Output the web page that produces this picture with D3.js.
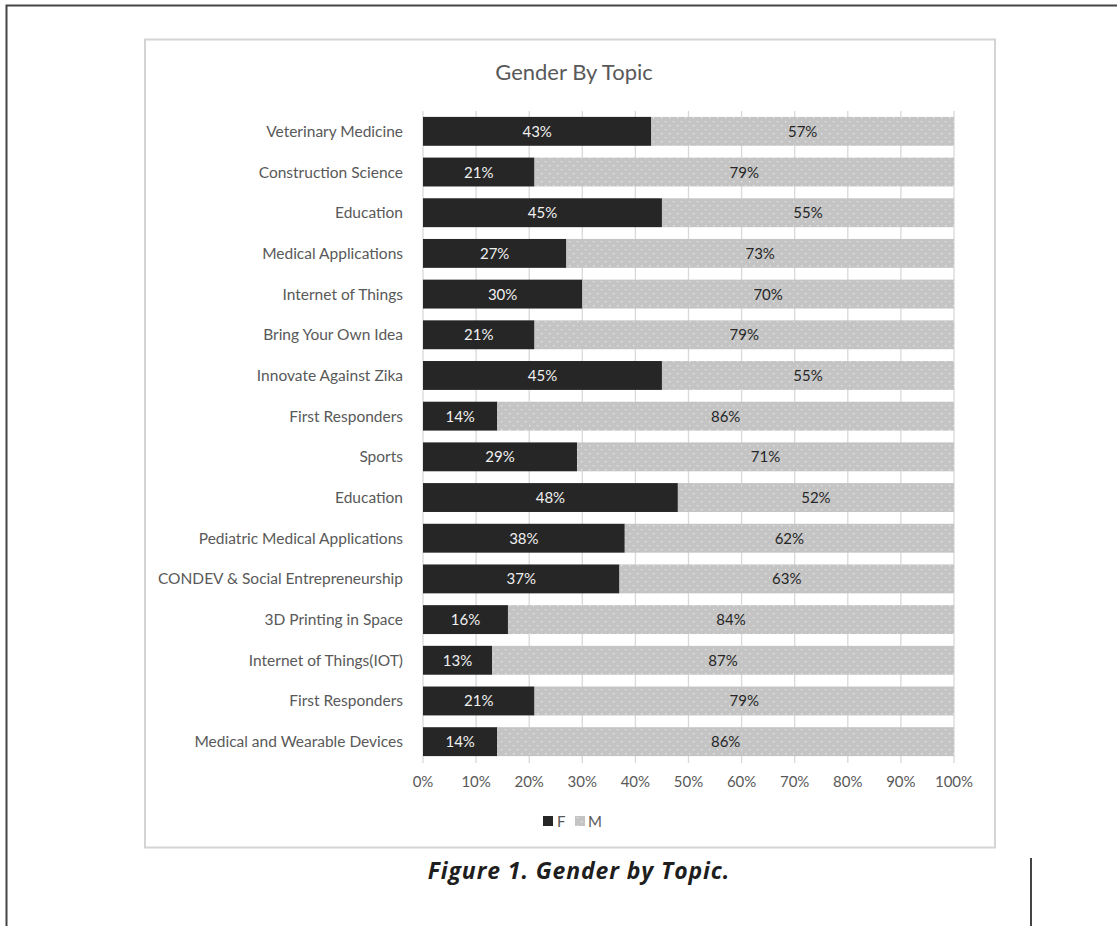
<!DOCTYPE html>
<html>
<head>
  <meta charset="utf-8">
  <title>Gender By Topic</title>
  <style>
    body { margin: 0; background: #fff; }
    svg { display: block; }
    .cat text { font-family: Lato, "Open Sans", sans-serif; font-size: 15.5px; fill: #595959; }
    .ticks text { font-family: Lato, "Open Sans", sans-serif; font-size: 15px; fill: #595959; }
    .lbl { font-family: Lato, "Open Sans", sans-serif; font-size: 15px; }
  </style>
</head>
<body>
  <svg id="chart" width="1117" height="926"></svg>

  <script src="https://cdn.jsdelivr.net/npm/d3@7/dist/d3.min.js"></script>
  <script>
    var topics = ['Veterinary Medicine', 'Construction Science', 'Education', 'Medical Applications',
      'Internet of Things', 'Bring Your Own Idea', 'Innovate Against Zika', 'First Responders',
      'Sports', 'Education', 'Pediatric Medical Applications', 'CONDEV & Social Entrepreneurship',
      '3D Printing in Space', 'Internet of Things(IOT)', 'First Responders', 'Medical and Wearable Devices'];
    var female = [43, 21, 45, 27, 30, 21, 45, 14, 29, 48, 38, 37, 16, 13, 21, 14];
    var male = [57, 79, 55, 73, 70, 79, 55, 86, 71, 52, 62, 63, 84, 87, 79, 86];
    var tickVals = [0, 10, 20, 30, 40, 50, 60, 70, 80, 90, 100];

    var svg = d3.select('#chart');

    // outer page frame
    svg.append('path')
      .attr('d', 'M6.5,926 V5.5 H1117')
      .attr('fill', 'none').attr('stroke', '#444').attr('stroke-width', 2);
    svg.append('line')
      .attr('x1', 1031).attr('x2', 1031).attr('y1', 858).attr('y2', 926)
      .attr('stroke', '#444').attr('stroke-width', 2);

    // chart frame
    svg.append('rect')
      .attr('x', 145).attr('y', 39.5).attr('width', 850).attr('height', 808)
      .attr('fill', '#fff').attr('stroke', '#d4d4d4').attr('stroke-width', 2);

    var defs = svg.append('defs');
    var pat = defs.append('pattern')
      .attr('id', 'dots').attr('patternUnits', 'userSpaceOnUse')
      .attr('width', 8).attr('height', 8);
    pat.append('rect').attr('width', 8).attr('height', 8).attr('fill', '#c4c4c4');
    pat.append('rect').attr('x', 1).attr('y', 1).attr('width', 1.3).attr('height', 1.3).attr('fill', '#e6e6e6');
    pat.append('rect').attr('x', 5).attr('y', 5).attr('width', 1.3).attr('height', 1.3).attr('fill', '#e6e6e6');

    var x = d3.scaleLinear().domain([0, 100]).range([423, 954]);
    var y = d3.scaleBand().domain(d3.range(topics.length)).range([111, 762]).paddingInner(0.29).paddingOuter(0.145);

    svg.append('text')
      .attr('x', 574).attr('y', 80)
      .attr('text-anchor', 'middle')
      .style('font-family', 'Lato, "Open Sans", sans-serif')
      .style('font-size', '22px')
      .style('fill', '#595959')
      .text('Gender  By Topic');

    // gridlines
    svg.append('g')
      .selectAll('line')
      .data(tickVals)
      .enter().append('line')
      .attr('x1', d => x(d)).attr('x2', d => x(d))
      .attr('y1', 111).attr('y2', 763)
      .attr('stroke', '#d9d9d9').attr('stroke-width', 1.3);

    var rows = svg.append('g').selectAll('g')
      .data(topics.map((t, i) => ({ t: t, f: female[i], m: male[i], i: i })))
      .enter().append('g');

    rows.append('rect')
      .attr('x', x(0))
      .attr('y', d => y(d.i))
      .attr('width', d => x(d.f) - x(0))
      .attr('height', y.bandwidth())
      .attr('fill', '#262626');

    rows.append('rect')
      .attr('x', d => x(d.f))
      .attr('y', d => y(d.i))
      .attr('width', d => x(d.f + d.m) - x(d.f))
      .attr('height', y.bandwidth())
      .attr('fill', 'url(#dots)');

    rows.append('text')
      .attr('class', 'lbl')
      .attr('x', d => x(d.f / 2))
      .attr('y', d => y(d.i) + y.bandwidth() / 2 + 5.5)
      .attr('text-anchor', 'middle')
      .style('fill', '#f0f0f0')
      .text(d => d.f + '%');

    rows.append('text')
      .attr('class', 'lbl')
      .attr('x', d => x(d.f + d.m / 2))
      .attr('y', d => y(d.i) + y.bandwidth() / 2 + 5.5)
      .attr('text-anchor', 'middle')
      .style('fill', '#262626')
      .text(d => d.m + '%');

    // category labels
    svg.append('g').attr('class', 'cat')
      .selectAll('text')
      .data(topics)
      .enter().append('text')
      .attr('x', 403)
      .attr('y', (d, i) => y(i) + y.bandwidth() / 2 + 5.5)
      .attr('text-anchor', 'end')
      .text(d => d);

    // tick labels
    svg.append('g').attr('class', 'ticks')
      .selectAll('text')
      .data(tickVals)
      .enter().append('text')
      .attr('x', d => x(d))
      .attr('y', 787)
      .attr('text-anchor', 'middle')
      .text(d => d + '%');

    // legend
    var leg = svg.append('g');
    leg.append('rect').attr('x', 543).attr('y', 816).attr('width', 10).attr('height', 10).attr('fill', '#262626');
    leg.append('text').attr('x', 557).attr('y', 827)
      .style('font-family', 'Lato, "Open Sans", sans-serif').style('font-size', '15px').style('fill', '#595959').text('F');
    leg.append('rect').attr('x', 575).attr('y', 816).attr('width', 10).attr('height', 10).attr('fill', 'url(#dots)');
    leg.append('text').attr('x', 588).attr('y', 827)
      .style('font-family', 'Lato, "Open Sans", sans-serif').style('font-size', '15px').style('fill', '#595959').text('M');

    // caption
    svg.append('text')
      .attr('x', 579).attr('y', 879)
      .attr('text-anchor', 'middle')
      .style('font-family', '"Open Sans", Lato, sans-serif')
      .style('font-size', '23px')
      .style('font-weight', 'bold')
      .style('font-style', 'italic')
      .style('letter-spacing', '0.9px')
      .style('fill', '#1e1e1e')
      .text('Figure 1. Gender by Topic.');
  </script>
</body>
</html>
